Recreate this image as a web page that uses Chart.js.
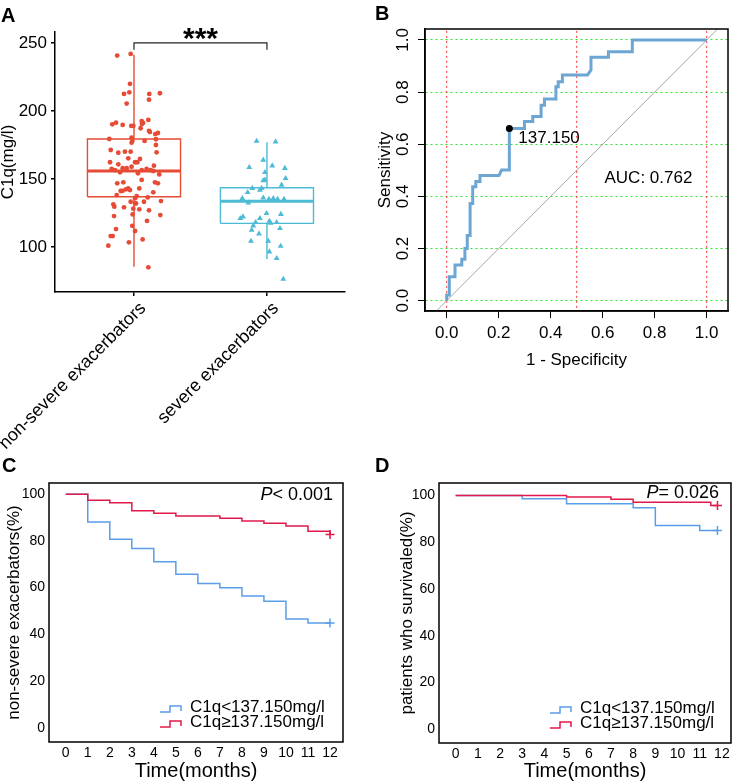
<!DOCTYPE html>
<html>
<head>
<meta charset="utf-8">
<script src="https://cdn.jsdelivr.net/npm/chart.js@4.4.1/dist/chart.umd.min.js"></script>
<style>
  body { margin: 0; background: #fff; }
  #wrap { position: relative; width: 737px; height: 783px; overflow: hidden; font-family: 'Liberation Sans', Arial, sans-serif; }
  canvas { position: absolute; }
  .tag { position: absolute; font-weight: bold; font-size: 20px; line-height: 1; color: #000; }
</style>
</head>
<body>
<div id="wrap">
  <canvas id="chartA" width="360" height="460" style="left:0;top:0"></canvas>
  <canvas id="chartB" width="377" height="400" style="left:360px;top:0"></canvas>
  <canvas id="chartC" width="370" height="383" style="left:0;top:400px"></canvas>
  <canvas id="chartD" width="367" height="383" style="left:370px;top:400px"></canvas>
  <div class="tag" style="left:1px;top:5px">A</div>
  <div class="tag" style="left:375px;top:3px">B</div>
  <div class="tag" style="left:2px;top:455px">C</div>
  <div class="tag" style="left:375px;top:455px">D</div>
</div>
<script>
// panel A: C1q by group
const groups = ["non-severe exacerbators", "severe exacerbators"];
const c1qTicks = [100, 150, 200, 250];
const boxQ1 = [137.0, 117.4];
const boxMedian = [155.9, 133.6];
const boxQ3 = [179.4, 143.6];
const whiskerLow = [85.5, 91.2];
const whiskerHigh = [241.2, 177.0];

// jitter offsets (category units) and values
const nonSevereJitter = [
  -0.126, -0.025, -0.03, -0.075, -0.035, 0.115, 0.195, -0.055, 0.113, -0.163,
  -0.135, -0.085, -0.02, -0.005, 0.058, 0.068, 0.06, 0.108, 0.05, 0.113,
  0.12, 0.16, 0.18, -0.186, -0.018, -0.012, -0.018, 0.08, 0.165, 0.165,
  -0.175, -0.118, -0.068, -0.025, 0.17, -0.043, 0.045, -0.18, -0.118, 0.008,
  0.025, -0.018, -0.085, -0.055, -0.168, -0.143, 0.15, 0.19, 0.058, 0.095,
  0.125, 0.145, -0.105, 0.03, 0.058, -0.126, -0.08, 0.158, 0.18, -0.043,
  -0.06, -0.085, -0.1, -0.03, 0.04, 0.145, -0.13, 0.02, 0.008, 0.103,
  -0.155, -0.148, -0.075, -0.025, 0.008, 0.015, 0.075, 0.203, -0.005, 0.04,
  0.113, -0.15, -0.01, 0.198, 0.098, -0.013, -0.135, 0.008, -0.175, -0.16,
  0.065, -0.193, -0.038, 0.108
];
const nonSevereC1q = [
  240.7, 241.9, 219.9, 212.5, 213.7, 212.5, 213.0, 205.4, 208.3, 190.2,
  191.4, 189.7, 189.0, 189.0, 192.6, 191.2, 190.5, 193.4, 187.3, 185.3,
  184.5, 183.0, 183.8, 179.4, 180.4, 178.0, 176.7, 178.0, 179.2, 175.0,
  171.3, 169.3, 170.1, 170.1, 169.6, 165.2, 164.7, 162.3, 160.8, 162.3,
  162.3, 159.0, 157.9, 157.9, 157.4, 156.6, 159.8, 153.4, 156.6, 157.4,
  156.6, 155.9, 154.9, 154.2, 149.3, 146.8, 147.6, 147.6, 146.8, 143.1,
  142.4, 141.3, 141.2, 141.9, 143.1, 140.2, 138.2, 137.5, 135.8, 136.5,
  131.4, 129.7, 129.2, 133.3, 132.1, 132.1, 133.3, 133.8, 128.2, 127.7,
  127.0, 122.8, 124.0, 123.5, 119.2, 115.6, 113.2, 111.8, 108.1, 108.1,
  105.6, 101.0, 103.5, 85.1
];
const severeJitter = [
  -0.078, 0.065, -0.028, -0.133, 0.04, 0.135, -0.015, 0.14, -0.028, -0.015,
  0.11, -0.11, -0.04, -0.145, -0.053, -0.185, -0.028, 0.015, 0.048, 0.08,
  0.128, -0.14, -0.003, 0.105, -0.2, -0.18, -0.053, -0.085, -0.103, 0.018,
  0.028, 0.073, 0.098, -0.115, -0.06, -0.12, 0.01, 0.103, 0.018, 0.073,
  0.123
];
const severeC1q = [
  177.9, 177.4, 164.0, 158.6, 159.8, 157.9, 154.9, 150.5, 148.8, 149.3,
  145.6, 143.2, 143.2, 140.2, 141.9, 135.8, 136.2, 135.3, 135.8, 135.3,
  135.3, 132.6, 124.8, 124.1, 121.1, 122.3, 121.1, 118.2, 115.7, 119.1,
  117.6, 118.2, 113.8, 112.5, 109.8, 104.4, 104.4, 100.7, 96.6, 91.7,
  76.5
];

// panel B: ROC
const rocFpr = [0, 0, 0.01, 0.01, 0.032, 0.032, 0.058, 0.058, 0.07, 0.07, 0.079, 0.079,
  0.09, 0.09, 0.1, 0.1, 0.112, 0.112, 0.128, 0.128, 0.201, 0.211, 0.241, 0.241,
  0.299, 0.299, 0.331, 0.331, 0.363, 0.363, 0.376, 0.376, 0.42, 0.42, 0.429, 0.429,
  0.445, 0.445, 0.542, 0.555, 0.555, 0.622, 0.622, 0.714, 0.714, 1];
const rocTpr = [0, 0.022, 0.022, 0.092, 0.092, 0.137, 0.137, 0.159, 0.159, 0.2, 0.2, 0.25,
  0.25, 0.373, 0.373, 0.437, 0.437, 0.457, 0.457, 0.48, 0.48, 0.501, 0.501, 0.66,
  0.66, 0.687, 0.687, 0.706, 0.706, 0.75, 0.75, 0.774, 0.774, 0.821, 0.821, 0.84,
  0.84, 0.866, 0.866, 0.885, 0.934, 0.934, 0.955, 0.955, 1, 1];
const cutoffPoint = [0.241, 0.66];
const cutoffLabel = "137.150";
const aucLabel = "AUC: 0.762";
const aucPos = [0.776, 0.47];
const rocTicks = [0, 0.2, 0.4, 0.6, 0.8, 1.0];
const specRefLines = [0, 0.5, 1];

// panels C and D: Kaplan-Meier
const monthTicks = [0, 1, 2, 3, 4, 5, 6, 7, 8, 9, 10, 11, 12];
const pctTicks = [0, 20, 40, 60, 80, 100];
const kmLabels = ["C1q<137.150mg/l", "C1q\u2265137.150mg/l"];
const lowTimesC = [0, 1, 2, 3, 4, 5, 6, 7, 8, 9, 10, 11, 12];
const lowSurvC = [100, 88.1, 80.7, 76.8, 71.1, 65.7, 61.8, 60.0, 56.4, 54.2, 46.6, 44.9, 44.9];
const highTimesC = [0, 1, 2, 3, 4, 5, 7, 8, 9, 10, 11, 12];
const highSurvC = [100, 97.4, 96.3, 92.9, 91.8, 90.7, 89.7, 88.5, 87.6, 86.4, 84.1, 82.8];
const lowTimesD = [0, 3, 5, 8, 9, 11, 11.8];
const lowSurvD = [100, 98.6, 96.4, 94.7, 87.1, 85.0, 85.0];
const highTimesD = [0, 5, 7, 8, 11.5, 11.8];
const highSurvD = [100, 99.3, 98.3, 97.1, 95.7, 95.7];

const FONT = "'Liberation Sans', Arial, sans-serif";
const RED_A = "#E64B35";
const BLUE_A = "#4DBBD5";
const KM_BLUE = "#5A9DE8";
const KM_RED = "#E2184A";

Chart.defaults.font.family = FONT;
Chart.defaults.color = "#000";
Chart.defaults.animation = false;
Chart.defaults.responsive = false;
Chart.defaults.plugins.legend.display = false;
Chart.defaults.plugins.tooltip.enabled = false;

// fix axis box size so the plot areas land where the reference has them
function fixSize(w, h) {
  return (s) => {
    if (w != null) s.width = w;
    if (h != null) s.height = h;
    s.paddingLeft = s.paddingRight = s.paddingTop = s.paddingBottom = 0;
  };
}
function setTicks(values) {
  return (s) => { s.ticks = values.map((v) => ({ value: v })); };
}

const frame = {
  id: "frame",
  afterDraw(chart) {
    const { ctx, chartArea: a } = chart;
    ctx.save();
    ctx.strokeStyle = "#000";
    ctx.lineWidth = 1.5;
    ctx.strokeRect(a.left, a.top, a.right - a.left, a.bottom - a.top);
    ctx.restore();
  },
};

const notes = {
  id: "notes",
  afterDatasetsDraw(chart, args, opts) {
    const { ctx, scales } = chart;
    ctx.save();
    ctx.fillStyle = "#000";
    ctx.textBaseline = "middle";
    for (const n of opts.items || []) {
      ctx.font = n.font;
      ctx.textAlign = n.align;
      ctx.fillText(n.text, scales.x.getPixelForValue(n.x) + (n.dx || 0),
        scales.y.getPixelForValue(n.y) + (n.dy || 0));
    }
    ctx.restore();
  },
};

const bracket = {
  id: "bracket",
  afterDatasetsDraw(chart, args, opts) {
    const { ctx, scales: { x, y } } = chart;
    const x1 = x.getPixelForValue(opts.from), x2 = x.getPixelForValue(opts.to);
    const yTop = y.getPixelForValue(opts.y), yLeg = y.getPixelForValue(opts.leg);
    ctx.save();
    ctx.strokeStyle = "#222";
    ctx.lineWidth = 1.2;
    ctx.beginPath();
    ctx.moveTo(x1, yLeg); ctx.lineTo(x1, yTop); ctx.lineTo(x2, yTop); ctx.lineTo(x2, yLeg);
    ctx.stroke();
    ctx.fillStyle = "#000";
    ctx.font = `bold 30px ${FONT}`;
    ctx.textAlign = "center";
    ctx.textBaseline = "alphabetic";
    ctx.fillText(opts.label, (x1 + x2) / 2, yTop + 5.5);
    ctx.restore();
  },
};

const pval = {
  id: "pval",
  afterDraw(chart, args, opts) {
    const { ctx, chartArea: a } = chart;
    const xr = a.right - opts.dx, y = a.top + opts.dy;
    ctx.save();
    ctx.fillStyle = "#000";
    ctx.textBaseline = "middle";
    ctx.textAlign = "right";
    ctx.font = `18px ${FONT}`;
    const w = ctx.measureText(opts.text).width;
    ctx.fillText(opts.text, xr, y);
    ctx.font = `italic 18px ${FONT}`;
    ctx.fillText("P", xr - w, y);
    ctx.restore();
  },
};

const kmLegend = {
  id: "kmLegend",
  afterDraw(chart) {
    const { ctx, chartArea: a } = chart;
    ctx.save();
    ctx.font = `17px ${FONT}`;
    ctx.textBaseline = "middle";
    ctx.textAlign = "left";
    chart.data.datasets.forEach((ds, i) => {
      const y = a.bottom - 35 + i * 15;
      const x = a.left + 111;
      ctx.strokeStyle = ds.borderColor;
      ctx.lineWidth = 1.5;
      ctx.beginPath();
      ctx.moveTo(x, y + 5); ctx.lineTo(x + 10, y + 5); ctx.lineTo(x + 10, y - 1);
      ctx.lineTo(x + 21, y - 1); ctx.lineTo(x + 21, y + 4);
      ctx.stroke();
      ctx.fillStyle = "#000";
      ctx.fillText(ds.label, a.left + 141, y);
    });
    ctx.restore();
  },
};

// ---------- A ----------
const BOX_HALF = 0.35;
function boxSets(i, color) {
  const c = i + 1;
  const line = { showLine: true, pointRadius: 0, borderColor: color, borderWidth: 1.4, fill: false };
  return [
    { ...line, borderWidth: 3, data: [{ x: c - BOX_HALF, y: boxMedian[i] }, { x: c + BOX_HALF, y: boxMedian[i] }] },
    { ...line, data: [
      { x: c - BOX_HALF, y: boxQ1[i] }, { x: c + BOX_HALF, y: boxQ1[i] },
      { x: c + BOX_HALF, y: boxQ3[i] }, { x: c - BOX_HALF, y: boxQ3[i] },
      { x: c - BOX_HALF, y: boxQ1[i] }] },
    { ...line, data: [{ x: c, y: boxQ3[i] }, { x: c, y: whiskerHigh[i] }] },
    { ...line, data: [{ x: c, y: boxQ1[i] }, { x: c, y: whiskerLow[i] }] },
  ];
}

new Chart(document.getElementById("chartA"), {
  type: "scatter",
  data: {
    datasets: [
      {
        data: nonSevereJitter.map((d, k) => ({ x: 1 + d, y: nonSevereC1q[k] })),
        pointStyle: "circle", pointRadius: 2.4, pointBackgroundColor: RED_A, pointBorderWidth: 0,
      },
      {
        data: severeJitter.map((d, k) => ({ x: 2 + d, y: severeC1q[k] })),
        pointStyle: "triangle", pointRadius: 3.4, pointBackgroundColor: BLUE_A, pointBorderWidth: 0,
      },
      ...boxSets(0, RED_A),
      ...boxSets(1, BLUE_A),
    ],
  },
  options: {
    layout: { padding: { left: 0, top: 32, right: 15, bottom: 0 } },
    scales: {
      x: {
        type: "linear", min: 0.406, max: 2.587,
        afterBuildTicks: setTicks([1, 2]),
        afterFit: fixSize(null, 168),
        ticks: {
          callback: (v) => groups[v - 1], autoSkip: false, labelOffset: 9,
          minRotation: 45, maxRotation: 45, padding: 2, font: { size: 18 },
        },
        grid: { drawOnChartArea: false, tickLength: 4, tickColor: "#000", lineWidth: 1.5 },
        border: { color: "#000", width: 1.5 },
      },
      y: {
        min: 67, max: 258,
        afterBuildTicks: setTicks(c1qTicks),
        afterFit: fixSize(55, null),
        ticks: { padding: 4, font: { size: 17 } },
        grid: { drawOnChartArea: false, tickLength: 4, tickColor: "#000", lineWidth: 1.5 },
        border: { color: "#000", width: 1.5 },
        title: { display: true, text: "C1q(mg/l)", padding: 0, font: { size: 17, lineHeight: 1 } },
      },
    },
    plugins: { bracket: { from: 1, to: 2, y: 250, leg: 244.9, label: "***" } },
  },
  plugins: [bracket],
});

// ---------- B ----------
const refLine = { showLine: true, pointRadius: 0, borderWidth: 1, clip: 0 };
new Chart(document.getElementById("chartB"), {
  type: "scatter",
  data: {
    datasets: [
      { data: [{ x: cutoffPoint[0], y: cutoffPoint[1] }], pointRadius: 3.5, pointBackgroundColor: "#000", pointBorderWidth: 0 },
      {
        data: rocFpr.map((x, i) => ({ x, y: rocTpr[i] })),
        showLine: true, pointRadius: 0, borderColor: "#6DA6D3", borderWidth: 3, clip: 2,
      },
      { ...refLine, borderColor: "#A6A6A6", data: [{ x: -0.2, y: -0.2 }, { x: 1.2, y: 1.2 }] },
      ...specRefLines.map((v) => ({
        ...refLine, borderColor: "#FF2A2A", borderDash: [2, 3],
        data: [{ x: v, y: -0.2 }, { x: v, y: 1.2 }],
      })),
    ],
  },
  options: {
    layout: { padding: { left: 15, top: 29, right: 9, bottom: 29 } },
    scales: {
      x: {
        type: "linear", min: -0.0835, max: 1.082,
        afterBuildTicks: setTicks(rocTicks),
        afterFit: fixSize(null, 60),
        ticks: { callback: (v) => v.toFixed(1), padding: 5, font: { size: 17 }, maxRotation: 0, autoSkip: false },
        grid: { drawOnChartArea: false, tickLength: 7, tickColor: "#000", lineWidth: 1 },
        border: { color: "#000", width: 1.5 },
        title: { display: true, text: "1 - Specificity", padding: 0, font: { size: 17 } },
      },
      y: {
        min: -0.0395, max: 1.042,
        afterBuildTicks: setTicks(rocTicks),
        afterFit: fixSize(50, null),
        ticks: {
          callback: (v) => v.toFixed(1), padding: 3, font: { size: 17 },
          minRotation: 90, maxRotation: 90, crossAlign: "center", autoSkip: false,
        },
        grid: { color: "#2BE62B", lineWidth: 1, tickLength: 7, tickColor: "#000", tickBorderDash: [] },
        border: { color: "#000", width: 1.5, dash: [2, 3] },
        title: { display: true, text: "Sensitivity", padding: 0, font: { size: 17 } },
      },
    },
    plugins: {
      notes: {
        items: [
          { text: cutoffLabel, x: cutoffPoint[0], y: cutoffPoint[1], dx: 9, dy: 10, align: "left", font: `17px ${FONT}` },
          { text: aucLabel, x: aucPos[0], y: aucPos[1], align: "center", font: `17px ${FONT}` },
        ],
      },
    },
  },
  plugins: [notes, frame],
});

// ---------- C and D ----------
function kmSet(label, times, surv, color, order) {
  const last = times.length - 1;
  return {
    label, order, borderColor: color, borderWidth: 1.5, stepped: "before", fill: false,
    data: times.map((t, i) => ({ x: t, y: surv[i] })),
    pointStyle: "cross", pointBorderColor: color, pointBorderWidth: 1.5,
    pointRadius: (ctx) => (ctx.dataIndex === last ? 4.5 : 0),
  };
}

function kmChart(id, sets, o) {
  return new Chart(document.getElementById(id), {
    type: "line",
    data: { datasets: sets },
    options: {
      layout: { padding: o.padding },
      scales: {
        x: {
          type: "linear", min: o.xMin, max: o.xMax,
          afterBuildTicks: setTicks(monthTicks),
          afterFit: fixSize(null, o.xHeight),
          ticks: { padding: 3, font: { size: 14 }, minRotation: 0, maxRotation: 0, autoSkip: false },
          grid: { display: false, drawTicks: false },
          border: { display: false },
          title: { display: true, text: "Time(months)", padding: 0, font: { size: 20 } },
        },
        y: {
          min: o.yMin, max: o.yMax,
          afterBuildTicks: setTicks(pctTicks),
          afterFit: fixSize(o.yWidth, null),
          ticks: { padding: 4, font: { size: 14 }, autoSkip: false },
          grid: { display: false, drawTicks: false },
          border: { display: false },
          title: { display: true, text: o.yTitle, padding: 0, font: { size: 17 } },
        },
      },
      plugins: { pval: o.pval },
    },
    plugins: [frame, pval, kmLegend],
  });
}

// red drawn over blue where the curves share the 100% line
kmChart("chartC", [
  kmSet(kmLabels[0], lowTimesC, lowSurvC, KM_BLUE, 1),
  kmSet(kmLabels[1], highTimesC, highSurvC, KM_RED, 0),
], {
  padding: { left: 4, top: 83, right: 27, bottom: 0 },
  xMin: -0.76, xMax: 12.59, yMin: -6.1, yMax: 104.8,
  xHeight: 41, yWidth: 45,
  yTitle: "non-severe exacerbators(%)",
  pval: { text: "< 0.001", dx: 10, dy: 12 },
});

kmChart("chartD", [
  kmSet(kmLabels[0], lowTimesD, lowSurvD, KM_BLUE, 1),
  kmSet(kmLabels[1], highTimesD, highSurvD, KM_RED, 0),
], {
  padding: { left: 27, top: 83, right: 1, bottom: 0 },
  xMin: -0.75, xMax: 12.41, yMin: -5.9, yMax: 105.3,
  xHeight: 40, yWidth: 42,
  yTitle: "patients who survivaled(%)",
  pval: { text: "= 0.026", dx: 12, dy: 10 },
});
</script>
</body>
</html>
